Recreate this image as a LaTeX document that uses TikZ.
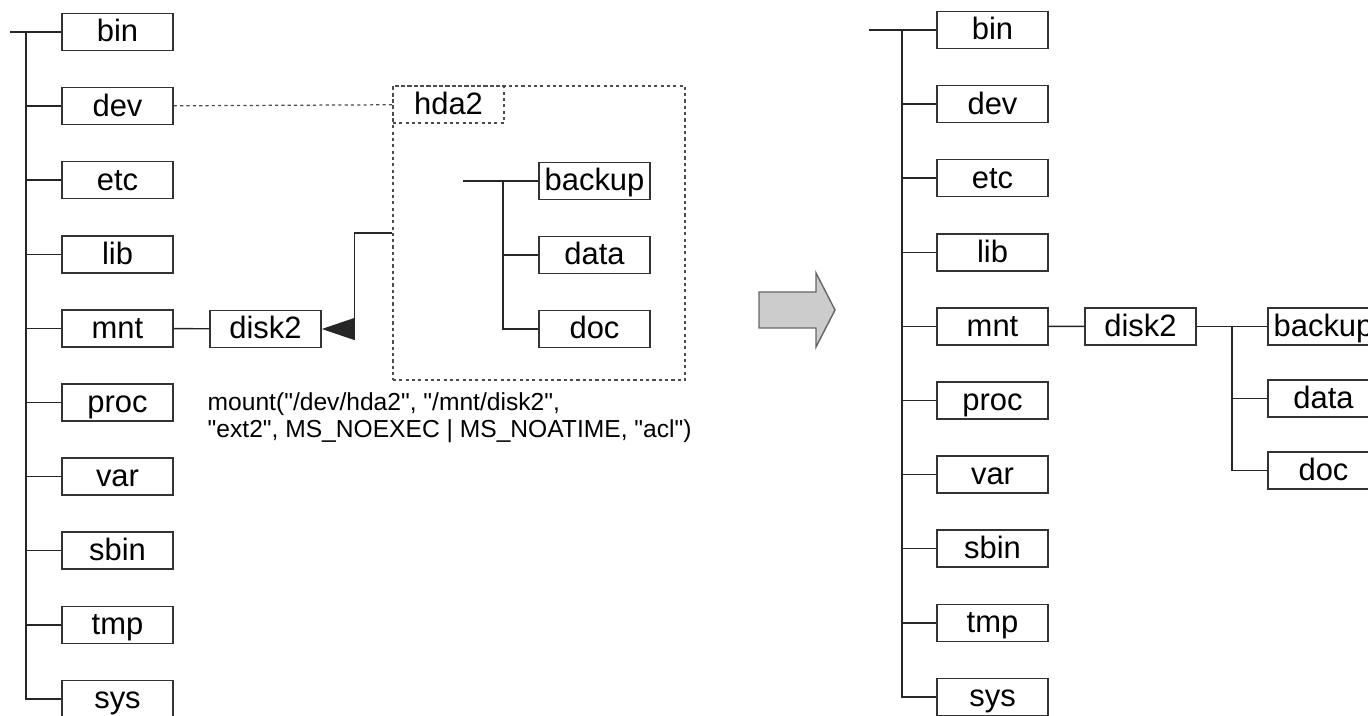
\documentclass[tikz,border=0pt]{standalone}
\usepackage{fontspec}
\setmainfont{Liberation Sans}[Ligatures=TeXOff]
\usepackage{tikz}
\usetikzlibrary{arrows.meta,calc}

\tikzset{
  dirbox/.style={draw=black!80,line width=0.45pt,minimum width=11.1mm,minimum height=3.7mm,
    inner sep=0pt,text height=2.2mm,text depth=0.2mm,font=\fontsize{8.8}{9}\selectfont},
  branch/.style={draw=black!85,line width=0.4pt},
  dotline/.style={draw=black!70,line width=0.35pt,dash pattern=on 0.9pt off 0.9pt},
}

\begin{document}
\begin{tikzpicture}[x=0.1mm,y=-0.1mm,>=Latex]
\useasboundingbox (0,0) rectangle (1368,716);

% Left tree: before mount
\coordinate (lroot) at (10,32);
\coordinate (ltrunk) at (26,32);
\foreach \d [count=\i from 0] in {bin,dev,etc,lib,mnt,proc,var,sbin,tmp,sys}
  \node[dirbox] (l-\d) at (117.5,32+74.1*\i) {\d};
\draw[branch] (lroot) -- (l-bin.west);
\draw[branch] (ltrunk) |- (l-sys.west);
\foreach \d in {dev,etc,lib,mnt,proc,var,sbin,tmp}
  \draw[branch] (ltrunk |- l-\d) -- (l-\d.west);
\node[dirbox] (l-disk2) at (265.5,329) {disk2};
\draw[branch] (l-mnt) -- (l-disk2);

% The device with its own tree
\node[dotline,minimum width=29.2mm,minimum height=29.4mm,inner sep=0pt] (hdbox) at (539,233) {};
\node[dirbox,dotline,anchor=north west] (hda2) at (hdbox.north west) {hda2};
\draw[dotline] (l-dev) -- (hda2);
\coordinate (hroot) at (463,181);
\coordinate (htrunk) at (503,181);
\foreach \d [count=\i from 0] in {backup,data,doc}
  \node[dirbox] (h-\d) at (594.5,181+74*\i) {\d};
\draw[branch] (hroot) -- (h-backup.west);
\draw[branch] (htrunk) |- (h-doc.west);
\draw[branch] (htrunk |- h-data) -- (h-data.west);
\draw[branch,-{Triangle[length=3.3mm,width=2.2mm]}] (hdbox.west) -- ++(-38,0) |- (l-disk2.east);

\node[anchor=north west,align=left,inner sep=0pt,font=\fontsize{7}{7.7}\selectfont] (call) at (207,392)
  {mount("/dev/hda2", "/mnt/disk2",\\"ext2", MS\_NOEXEC | MS\_NOATIME, "acl")};

% Big arrow
\filldraw[fill=black!20,draw=black!60,line width=0.4pt]
  (759,292) -- (816,292) -- (816,273) -- (835,310) -- (816,347) -- (816,328) -- (759,328) -- cycle;

% Right tree: after mount
\coordinate (rroot) at (869,30);
\coordinate (rtrunk) at (902,30);
\foreach \d [count=\i from 0] in {bin,dev,etc,lib,mnt,proc,var,sbin,tmp,sys}
  \node[dirbox] (r-\d) at (992.5,30+74.1*\i) {\d};
\draw[branch] (rroot) -- (r-bin.west);
\draw[branch] (rtrunk) |- (r-sys.west);
\foreach \d in {dev,etc,lib,mnt,proc,var,sbin,tmp}
  \draw[branch] (rtrunk |- r-\d) -- (r-\d.west);
\node[dirbox] (r-disk2) at (1140.5,326.4) {disk2};
\draw[branch] (r-mnt) -- (r-disk2);
\coordinate (rsub) at (1232,326.4);
\foreach \d [count=\i from 0] in {backup,data,doc}
  \node[dirbox] (rs-\d) at (1323.5,326.4+72*\i) {\d};
\draw[branch] (r-disk2) -- (rs-backup);
\draw[branch] (rsub) |- (rs-doc.west);
\draw[branch] (rsub |- rs-data) -- (rs-data.west);
\end{tikzpicture}
\end{document}
